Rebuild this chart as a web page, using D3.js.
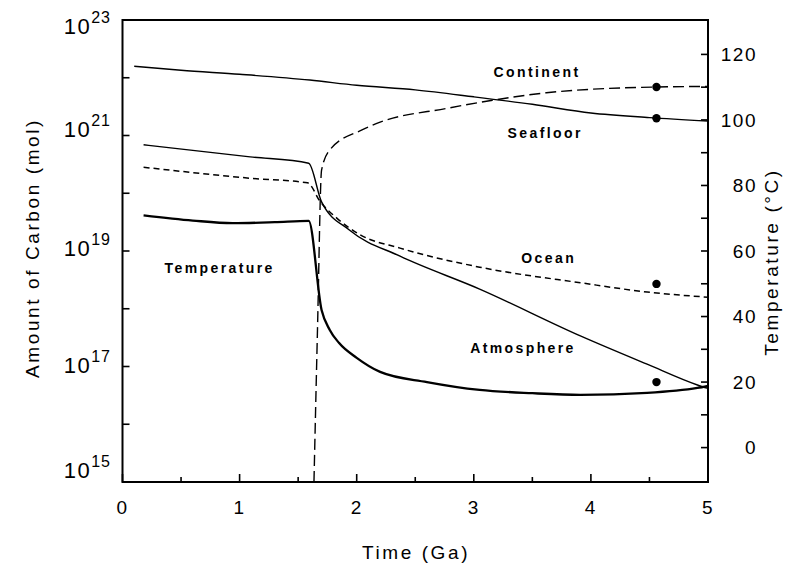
<!DOCTYPE html>
<html>
<head>
<meta charset="utf-8">
<script src="https://cdnjs.cloudflare.com/ajax/libs/d3/7.8.5/d3.min.js"></script>
<style>
  html, body { margin: 0; padding: 0; background: #fff; }
  svg { display: block; font-family: "Liberation Sans", Arial, Helvetica, sans-serif; }
</style>
</head>
<body>
<svg id="chart" width="791" height="566"></svg>
<script>
// values: carbon as log10(mol), temperature in deg C
const seafloorTime = [0.1, 0.5, 1, 1.6, 2, 2.5, 3, 3.5, 4, 4.5, 5]
const seafloorLog = [22.20, 22.13, 22.06, 21.96, 21.87, 21.79, 21.67, 21.54, 21.39, 21.31, 21.25]

const continentTime = [1.635, 1.665, 1.70, 1.77, 2.05, 2.2, 2.77, 3.16, 3.62, 4.56, 5]
const continentLog = [15, 17.63, 20.40, 20.75, 21.10, 21.23, 21.47, 21.61, 21.74, 21.84, 21.85]

const atmosphereTime = [0.18, 1.09, 1.59, 1.70, 1.94, 2.37, 3.05, 3.91, 4.48, 4.91, 5]
const atmosphereLog = [20.84, 20.63, 20.52, 19.85, 19.36, 18.91, 18.34, 17.53, 17.04, 16.68, 16.62]

const oceanTime = [0.18, 1.09, 1.58, 1.69, 1.83, 2.03, 2.37, 3.05, 3.91, 4.48, 5]
const oceanLog = [20.45, 20.26, 20.18, 19.85, 19.57, 19.28, 19.05, 18.72, 18.45, 18.29, 18.20]

const tempTime = [0.18, 0.6, 0.94, 1.3, 1.59, 1.70, 1.77, 1.85, 2.0, 2.2, 2.6, 3.05, 3.5, 3.91, 4.48, 4.91, 5]
const tempC = [70.9, 69.3, 68.5, 68.8, 69.2, 42.0, 35.9, 31.9, 27.4, 23.1, 20.0, 17.6, 16.6, 16.1, 16.7, 18.2, 18.8]

// present-day observed values (dots)
const obsTime = 4.56
const obsLog = [21.84, 21.30, 18.43, 16.73]

const xTicks = [0, 1, 2, 3, 4, 5]
const xMinor = [0.5, 1.5, 2.5, 3.5, 4.5]
const carbonTicks = [15, 16, 17, 18, 19, 20, 21, 22, 23]
const carbonLabels = [15, 17, 19, 21, 23]
const tempTicks = [0, 10, 20, 30, 40, 50, 60, 70, 80, 90, 100, 110, 120]
const tempLabels = [0, 20, 40, 60, 80, 100, 120]

const curveLabels = [
	{ text: 'Continent', t: 3.54, v: 22.10 },
	{ text: 'Seafloor', t: 3.61, v: 21.04 },
	{ text: 'Ocean', t: 3.64, v: 18.88 },
	{ text: 'Atmosphere', t: 3.42, v: 17.32 },
	{ text: 'Temperature', t: 0.83, v: 18.71 },
]

const plotL = 122.5, plotR = 708, plotT = 20, plotB = 482

const x = d3.scaleLinear().domain([0, 5]).range([plotL, plotR])
const yC = d3.scaleLog().domain([1e15, 1e23]).range([plotB, plotT])
const yT = d3.scaleLinear().domain([-10.5, 130.5]).range([plotB, plotT])

const svg = d3.select('#chart')

svg.append('clipPath').attr('id', 'plot')
	.append('rect')
	.attr('x', plotL).attr('y', plotT)
	.attr('width', plotR - plotL).attr('height', plotB - plotT)

const g = svg.append('g').attr('clip-path', 'url(#plot)')

const carbonLine = d3.line()
	.x(d => x(d[0]))
	.y(d => yC(Math.pow(10, d[1])))
	.curve(d3.curveMonotoneX)

const tempLine = d3.line()
	.x(d => x(d[0]))
	.y(d => yT(d[1]))
	.curve(d3.curveMonotoneX)

const series = [
	{ time: seafloorTime, vals: seafloorLog, dash: null, w: 1.4 },
	{ time: continentTime, vals: continentLog, dash: '11,5', w: 1.4 },
	{ time: atmosphereTime, vals: atmosphereLog, dash: null, w: 1.4 },
	{ time: oceanTime, vals: oceanLog, dash: '6,4', w: 1.5 },
]

series.forEach(s => {
	g.append('path')
		.datum(d3.zip(s.time, s.vals))
		.attr('d', carbonLine)
		.attr('fill', 'none')
		.attr('stroke', '#000')
		.attr('stroke-width', s.w)
		.attr('stroke-dasharray', s.dash)
})

g.append('path')
	.datum(d3.zip(tempTime, tempC))
	.attr('d', tempLine)
	.attr('fill', 'none')
	.attr('stroke', '#000')
	.attr('stroke-width', 2.3)

g.selectAll('.obs')
	.data(obsLog)
	.enter().append('circle')
	.attr('class', 'obs')
	.attr('cx', x(obsTime))
	.attr('cy', d => yC(Math.pow(10, d)))
	.attr('r', 4.2)
	.attr('fill', '#000')

svg.selectAll('.clabel')
	.data(curveLabels)
	.enter().append('text')
	.attr('class', 'clabel')
	.attr('x', d => x(d.t))
	.attr('y', d => yC(Math.pow(10, d.v)))
	.attr('text-anchor', 'middle')
	.attr('dy', '0.35em')
	.style('font-size', '14px')
	.style('font-weight', 'bold')
	.style('letter-spacing', '2.4px')
	.text(d => d.text)

// frame
svg.append('rect')
	.attr('x', plotL).attr('y', plotT)
	.attr('width', plotR - plotL).attr('height', plotB - plotT)
	.attr('fill', 'none')
	.attr('stroke', '#000')
	.attr('stroke-width', 2)

// ticks, all pointing inward
const ticks = svg.append('g').attr('stroke', '#000').attr('stroke-width', 1.6)

ticks.selectAll('.tl').data(carbonTicks).enter().append('line')
	.attr('x1', plotL).attr('x2', plotL + 7)
	.attr('y1', d => yC(Math.pow(10, d))).attr('y2', d => yC(Math.pow(10, d)))

ticks.selectAll('.tr').data(tempTicks).enter().append('line')
	.attr('x1', plotR).attr('x2', plotR - 7)
	.attr('y1', d => yT(d)).attr('y2', d => yT(d))

ticks.selectAll('.tb').data(xTicks).enter().append('line')
	.attr('x1', d => x(d)).attr('x2', d => x(d))
	.attr('y1', plotB).attr('y2', plotB - 8)

ticks.selectAll('.tm').data(xMinor).enter().append('line')
	.attr('x1', d => x(d)).attr('x2', d => x(d))
	.attr('y1', plotB).attr('y2', plotB - 5)

// tick labels
const labelStyle = sel => sel
	.style('font-size', '19px')
	.style('letter-spacing', '1.5px')
	.attr('fill', '#000')

svg.selectAll('.xl').data(xTicks).enter().append('text')
	.attr('x', d => x(d)).attr('y', 514)
	.attr('text-anchor', 'middle')
	.call(labelStyle)
	.text(d => d)

svg.selectAll('.rl').data(tempLabels).enter().append('text')
	.attr('x', 757).attr('y', d => yT(d))
	.attr('dy', '0.35em')
	.attr('text-anchor', 'end')
	.call(labelStyle)
	.text(d => d)

// the scanned labels sit a little off their ticks
const labelShift = { 23: 14, 21: 1, 19: 5, 17: 6, 15: -4 }

const ll = svg.selectAll('.ll').data(carbonLabels).enter().append('text')
	.attr('x', 111)
	.attr('y', d => yC(Math.pow(10, d)) + labelShift[d])
	.attr('text-anchor', 'end')
	.call(labelStyle)
	.style('font-size', '22px')
	.style('letter-spacing', '1.5px')
ll.append('tspan').text('10')
ll.append('tspan')
	.attr('dy', -11)
	.style('font-size', '16px')
	.style('letter-spacing', '1px')
	.text(d => d)

// axis titles
const titleStyle = sel => sel
	.style('font-size', '19px')
	.style('letter-spacing', '2.6px')
	.attr('text-anchor', 'middle')

svg.append('text')
	.attr('transform', 'translate(39,248) rotate(-90)')
	.call(titleStyle)
	.text('Amount of Carbon (mol)')

svg.append('text')
	.attr('transform', 'translate(778,262) rotate(-90)')
	.call(titleStyle)
	.text('Temperature (°C)')

svg.append('text')
	.attr('x', 416).attr('y', 559)
	.call(titleStyle)
	.text('Time (Ga)')
</script>
</body>
</html>
